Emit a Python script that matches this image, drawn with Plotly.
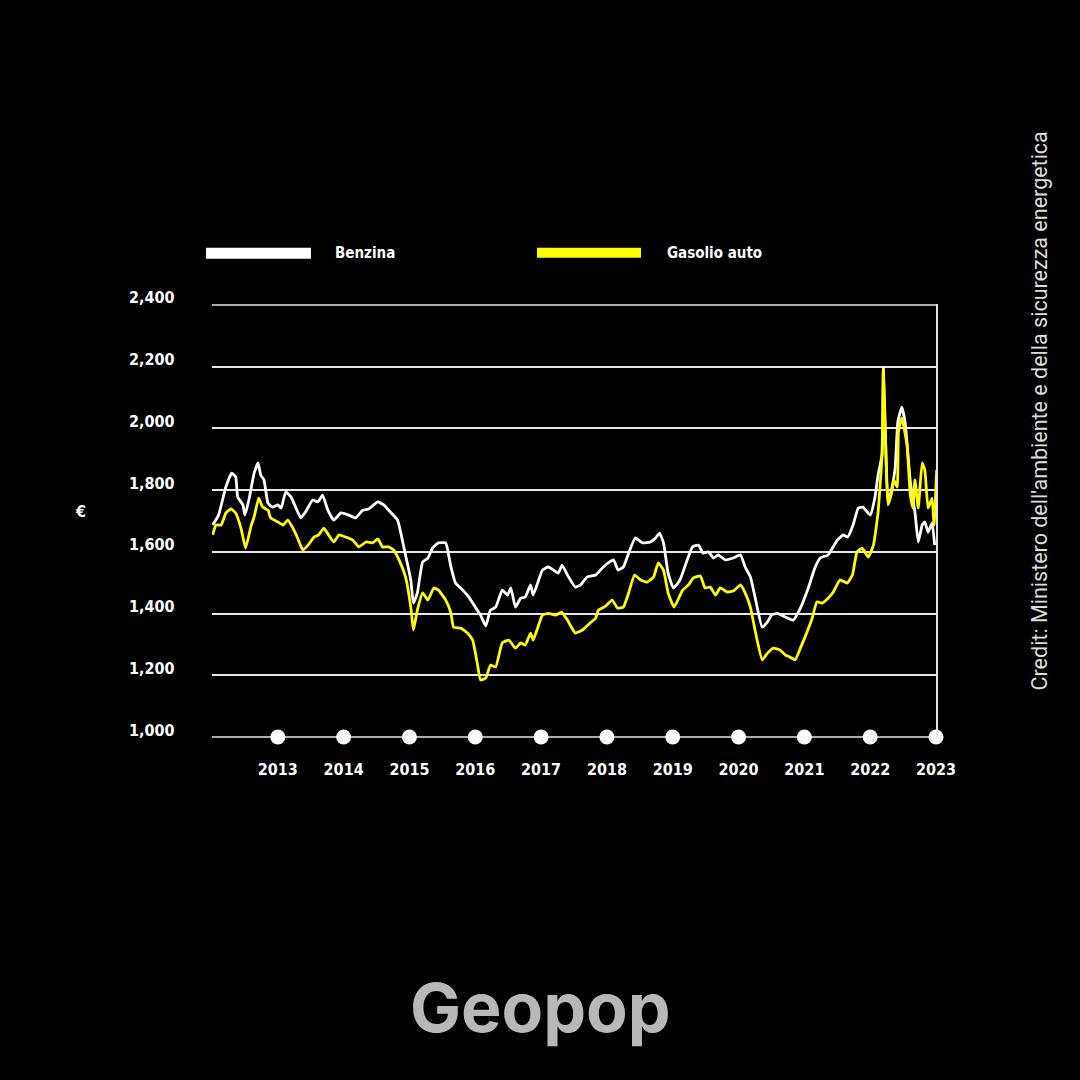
import plotly.graph_objects as go

# ---- data ----
benzina_x = [2012.01, 2012.10, 2012.21, 2012.30, 2012.36, 2012.39, 2012.47, 2012.50, 2012.56, 2012.64,
             2012.70, 2012.74, 2012.79, 2012.85, 2012.92, 2013.00, 2013.05, 2013.12, 2013.20, 2013.27,
             2013.35, 2013.42, 2013.53, 2013.61, 2013.68, 2013.76, 2013.85, 2013.96, 2014.08, 2014.18,
             2014.29, 2014.38, 2014.52, 2014.61, 2014.71, 2014.82, 2014.88, 2014.94, 2015.02, 2015.06,
             2015.12, 2015.20, 2015.28, 2015.35, 2015.44, 2015.55, 2015.63, 2015.70, 2015.81, 2015.90,
             2016.00, 2016.08, 2016.16, 2016.23, 2016.31, 2016.41, 2016.49, 2016.54, 2016.61, 2016.69,
             2016.76, 2016.84, 2016.88, 2017.02, 2017.11, 2017.19, 2017.26, 2017.32, 2017.40, 2017.52,
             2017.60, 2017.70, 2017.83, 2017.93, 2018.02, 2018.10, 2018.17, 2018.25, 2018.33, 2018.43,
             2018.54, 2018.66, 2018.74, 2018.80, 2018.86, 2018.93, 2019.01, 2019.11, 2019.22, 2019.30,
             2019.39, 2019.46, 2019.54, 2019.62, 2019.69, 2019.80, 2019.92, 2020.03, 2020.10, 2020.18,
             2020.25, 2020.36, 2020.44, 2020.50, 2020.59, 2020.71, 2020.83, 2020.94, 2021.06, 2021.16,
             2021.24, 2021.36, 2021.50, 2021.59, 2021.66, 2021.74, 2021.82, 2021.89, 2022.00, 2022.07,
             2022.12, 2022.18, 2022.20, 2022.24, 2022.27, 2022.33, 2022.38, 2022.42, 2022.48, 2022.53,
             2022.61, 2022.68, 2022.73, 2022.79, 2022.83, 2022.88, 2022.94, 2022.98]
benzina_y = [1687, 1719, 1810, 1855, 1843, 1778, 1752, 1719, 1768, 1855,
             1888, 1849, 1833, 1758, 1745, 1752, 1742, 1794, 1778, 1745,
             1710, 1729, 1768, 1762, 1784, 1735, 1703, 1726, 1719, 1710,
             1735, 1739, 1762, 1752, 1729, 1703, 1650, 1590, 1509, 1434,
             1467, 1567, 1580, 1612, 1629, 1629, 1551, 1499, 1476, 1454,
             1421, 1395, 1360, 1411, 1421, 1476, 1460, 1483, 1421, 1450,
             1454, 1493, 1460, 1541, 1551, 1541, 1531, 1557, 1525, 1486,
             1493, 1519, 1525, 1548, 1564, 1574, 1541, 1551, 1596, 1645,
             1629, 1632, 1645, 1661, 1629, 1531, 1483, 1509, 1574, 1616,
             1622, 1596, 1600, 1580, 1590, 1574, 1580, 1590, 1551, 1519,
             1454, 1356, 1373, 1395, 1401, 1389, 1379, 1418, 1483, 1548,
             1580, 1590, 1638, 1655, 1648, 1687, 1742, 1745, 1719, 1774,
             1849, 1914, 2196, 1914, 1762, 1807, 1872, 2021, 2069, 2021,
             1826, 1729, 1632, 1687, 1697, 1664, 1693, 1622]

gasolio_x = [2012.01, 2012.06, 2012.14, 2012.21, 2012.29, 2012.36, 2012.44, 2012.51, 2012.59, 2012.64,
             2012.71, 2012.77, 2012.85, 2012.89, 2013.00, 2013.08, 2013.15, 2013.23, 2013.30, 2013.38,
             2013.46, 2013.55, 2013.62, 2013.70, 2013.77, 2013.85, 2013.93, 2014.03, 2014.14, 2014.23,
             2014.34, 2014.44, 2014.52, 2014.59, 2014.68, 2014.76, 2014.85, 2014.94, 2015.02, 2015.06,
             2015.12, 2015.20, 2015.28, 2015.37, 2015.44, 2015.55, 2015.63, 2015.67, 2015.78, 2015.88,
             2015.96, 2016.03, 2016.08, 2016.16, 2016.23, 2016.31, 2016.41, 2016.51, 2016.61, 2016.69,
             2016.76, 2016.84, 2016.88, 2017.02, 2017.11, 2017.22, 2017.31, 2017.40, 2017.52, 2017.63,
             2017.72, 2017.83, 2017.87, 2017.98, 2018.08, 2018.16, 2018.25, 2018.33, 2018.42, 2018.51,
             2018.61, 2018.71, 2018.78, 2018.86, 2018.93, 2019.02, 2019.15, 2019.24, 2019.31, 2019.42,
             2019.49, 2019.57, 2019.65, 2019.72, 2019.83, 2019.92, 2020.03, 2020.10, 2020.18, 2020.25,
             2020.36, 2020.44, 2020.53, 2020.63, 2020.71, 2020.78, 2020.86, 2020.94, 2021.04, 2021.12,
             2021.19, 2021.27, 2021.36, 2021.44, 2021.54, 2021.65, 2021.73, 2021.80, 2021.88, 2021.97,
             2022.05, 2022.12, 2022.18, 2022.20, 2022.24, 2022.27, 2022.33, 2022.36, 2022.41, 2022.43,
             2022.48, 2022.56, 2022.61, 2022.65, 2022.68, 2022.73, 2022.79, 2022.83, 2022.88, 2022.94,
             2022.97, 2023.01]
gasolio_y = [1655, 1687, 1687, 1726, 1739, 1726, 1677, 1612, 1681, 1713,
             1774, 1745, 1735, 1710, 1697, 1687, 1703, 1677, 1645, 1606,
             1622, 1648, 1655, 1677, 1655, 1632, 1655, 1648, 1638, 1616,
             1632, 1629, 1642, 1616, 1616, 1606, 1570, 1519, 1421, 1347,
             1411, 1467, 1444, 1483, 1476, 1444, 1402, 1356, 1353, 1337,
             1314, 1240, 1185, 1191, 1233, 1227, 1305, 1314, 1288, 1305,
             1298, 1337, 1314, 1395, 1401, 1395, 1405, 1379, 1337, 1347,
             1365, 1386, 1411, 1424, 1444, 1418, 1421, 1467, 1525, 1509,
             1502, 1519, 1564, 1541, 1467, 1421, 1476, 1493, 1515, 1522,
             1483, 1486, 1460, 1483, 1470, 1473, 1493, 1467, 1421, 1347,
             1250, 1272, 1288, 1282, 1266, 1259, 1250, 1288, 1340, 1386,
             1438, 1434, 1450, 1470, 1509, 1499, 1525, 1600, 1612, 1583,
             1622, 1729, 1914, 2189, 1914, 1752, 1794, 1833, 1810, 1988,
             2034, 1946, 1784, 1742, 1833, 1742, 1888, 1865, 1742, 1774,
             1687, 1865]

years = [2013, 2014, 2015, 2016, 2017, 2018, 2019, 2020, 2021, 2022, 2023]
y_ticks = [1000, 1200, 1400, 1600, 1800, 2000, 2200, 2400]
series_names = ["Benzina", "Gasolio auto"]
series_colors = ["#ffffff", "#ffff00"]
credit_text = "Credit: Ministero dell'ambiente e della sicurezza energetica"
logo_text = "Geopop"

COND = "DejaVu Sans Condensed, DejaVu Sans, sans-serif"
GRID = "#e6e6e6"

fig = go.Figure()

fig.add_trace(go.Scatter(x=benzina_x, y=benzina_y, mode="lines", name=series_names[0],
                         line=dict(color=series_colors[0], width=2.8, shape="spline", smoothing=0.4),
                         showlegend=False))
fig.add_trace(go.Scatter(x=gasolio_x, y=gasolio_y, mode="lines", name=series_names[1],
                         line=dict(color=series_colors[1], width=2.8, shape="spline", smoothing=0.4),
                         showlegend=False))
# year dots on the baseline
fig.add_trace(go.Scatter(x=years, y=[y_ticks[0]] * len(years), mode="markers",
                         marker=dict(color="#ffffff", size=15, line=dict(width=0)),
                         cliponaxis=False, showlegend=False, hoverinfo="skip"))

fig.update_xaxes(range=[2012.0, 2023.0], tickmode="array", tickvals=years,
                 ticktext=[str(y) for y in years], showgrid=False, zeroline=False,
                 showline=False, ticks="", ticklabelstandoff=20,
                 tickfont=dict(family=COND, size=16, color="#ffffff", weight=700))
fig.update_yaxes(range=[y_ticks[0] - 3, y_ticks[-1] + 3], tickmode="array", tickvals=y_ticks,
                 showticklabels=False, showgrid=True, gridcolor=GRID, gridwidth=1.5,
                 zeroline=False, side="right", showline=True, linecolor=GRID, linewidth=1.5,
                 ticks="")

annotations = []
for v in y_ticks:
    annotations.append(dict(x=-0.1174, xref="paper", y=v, yref="y", yshift=7,
                            text=f"{v:,}", showarrow=False, xanchor="left", yanchor="middle",
                            font=dict(family=COND, size=16, color="#ffffff", weight=700)))
annotations.append(dict(x=-0.182, xref="paper", y=0.523, yref="paper", text="€",
                        showarrow=False, xanchor="center", yanchor="middle",
                        font=dict(family=COND, size=16, color="#ffffff", weight=700)))
# legend texts
annotations.append(dict(x=0.1671, xref="paper", y=1.118, yref="paper", text=series_names[0],
                        showarrow=False, xanchor="left", yanchor="middle",
                        font=dict(family=COND, size=15, color="#ffffff", weight=700)))
annotations.append(dict(x=0.6257, xref="paper", y=1.118, yref="paper", text=series_names[1],
                        showarrow=False, xanchor="left", yanchor="middle",
                        font=dict(family=COND, size=15, color="#ffffff", weight=700)))
# credit
annotations.append(dict(x=1.1436, xref="paper", y=0.7546, yref="paper", text=credit_text,
                        showarrow=False, textangle=-90, xanchor="center", yanchor="middle",
                        font=dict(family="Roboto, sans-serif", size=21.5, color="#dddddd")))
# logo
annotations.append(dict(x=0.454, xref="paper", y=-0.62, yref="paper", text=logo_text,
                        showarrow=False, xanchor="center", yanchor="middle",
                        font=dict(family="Inter, Lato, sans-serif", size=68, color="#b8b8b8",
                                  weight=700)))

shapes = [
    # legend swatches
    dict(type="rect", xref="paper", yref="paper", x0=-0.0083, x1=0.1367, y0=1.1042, y1=1.1296,
         fillcolor=series_colors[0], line=dict(width=0)),
    dict(type="rect", xref="paper", yref="paper", x0=0.4489, x1=0.5925, y0=1.1065, y1=1.1296,
         fillcolor=series_colors[1], line=dict(width=0)),
]
# outer grid lines (baseline and top) which plotly omits at the range edges
for v in (y_ticks[0], y_ticks[-1]):
    shapes.append(dict(type="line", xref="x domain", yref="y", x0=0, x1=1, y0=v, y1=v,
                       line=dict(color=GRID, width=1.5), layer="below"))

fig.update_layout(width=1080, height=1080, paper_bgcolor="#000000", plot_bgcolor="#000000",
                  margin=dict(l=212, r=144, t=304, b=342, autoexpand=False),
                  annotations=annotations, shapes=shapes, showlegend=False,
                  hovermode=False)

fig.write_html("out.html", config={"displayModeBar": False},
               post_script="document.body.style.margin='0px';"
                           "document.body.style.backgroundColor='#000000';")
